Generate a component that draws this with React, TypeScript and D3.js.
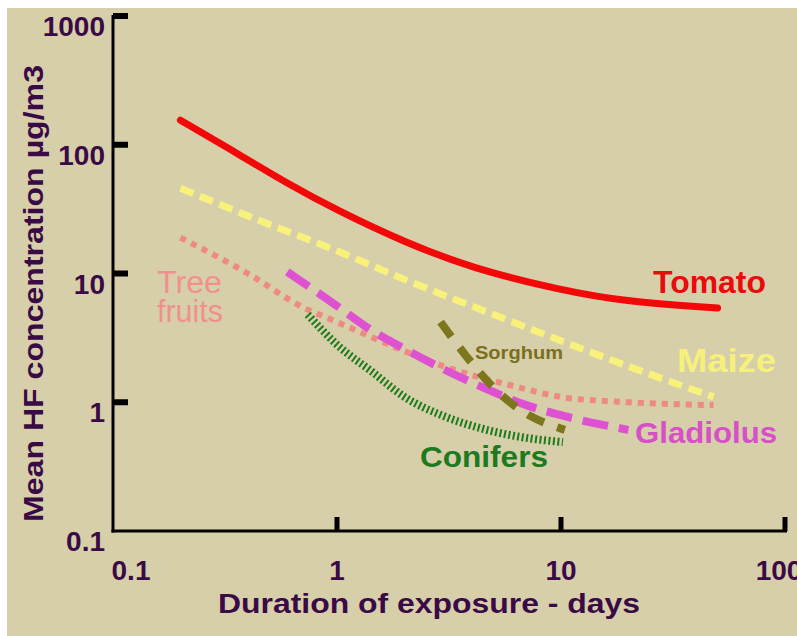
import React from "react";
import * as d3 from "d3";

const xTicks = [0.1, 1, 10, 100];
const yTicks = [0.1, 1, 10, 100, 1000];
const xTickLabels = ["0.1", "1", "10", "100"];
const yTickLabels = ["0.1", "1", "10", "100", "1000"];

const tomato: [number, number][] = [[0.2, 155], [0.35, 88], [0.6, 50], [1, 31], [2, 17.5], [4, 11], [10, 7.4], [20, 6.0], [50, 5.4]];
const maize: [number, number][] = [[0.2, 46], [0.5, 24], [1, 15], [2, 9], [5, 4.8], [10, 3.0], [20, 1.9], [48, 1.1]];
const treeFruits: [number, number][] = [[0.2, 19], [0.4, 10], [0.7, 5.5], [1, 4.2], [2, 2.5], [3, 1.9], [6, 1.35], [10, 1.1], [20, 1.0], [48, 0.95]];
const gladiolus: [number, number][] = [[0.6, 10.3], [1, 5.6], [1.4, 3.7], [2, 2.6], [3, 1.8], [5, 1.2], [7, 0.95], [11, 0.76], [20, 0.61]];
const sorghum: [number, number][] = [[2.9, 4.2], [3.8, 2.25], [5, 1.3], [6.6, 0.87], [10.4, 0.61]];
const conifers: [number, number][] = [[0.74, 4.8], [1.0, 2.8], [1.45, 1.7], [2, 1.1], [3, 0.78], [4.5, 0.62], [6.5, 0.54], [10.2, 0.49]];

const W = 797, H = 636;
const x = d3.scaleLog().domain([0.1, 100]).range([113, 785]);
const y = d3.scaleLog().domain([0.1, 1000]).range([531, 16]);
const line = d3.line<[number, number]>().x(d => x(d[0])).y(d => y(d[1])).curve(d3.curveMonotoneX);
const smooth = d3.line<[number, number]>().x(d => x(d[0])).y(d => y(d[1])).curve(d3.curveBasis);

const AX = "#3a0a46";
const FONT = "'Liberation Sans', Arial, sans-serif";

export default function App() {
  return (
    <svg width={W} height={H} style={{ position: "absolute", left: 0, top: 0 }} fontFamily={FONT}>
      <rect x={0} y={0} width={W} height={H} fill="#ffffff" />
      <rect x={7} y={8} width={W - 7} height={H - 8} fill="#d7cfa9" />

      {/* series */}
      <path d={smooth(tomato)!} fill="none" stroke="#f20808" strokeWidth={7} strokeLinecap="round" />
      <path d={line(maize)!} fill="none" stroke="#f8f27c" strokeWidth={7} strokeDasharray="14 7" />
      <path d={line(treeFruits)!} fill="none" stroke="#ef8a82" strokeWidth={6} strokeDasharray="6 6" />
      <path d={line(gladiolus)!} fill="none" stroke="#de52d2" strokeWidth={8} strokeDasharray="26 11" />
      <path d={line(conifers)!} fill="none" stroke="#1c7c1c" strokeWidth={8} strokeDasharray="2 2.5" />
      <path d={line(sorghum)!} fill="none" stroke="#7e761c" strokeWidth={8} strokeDasharray="18 14" />

      {/* axes */}
      <line x1={x(0.1)} x2={x(0.1)} y1={y(1000) - 1} y2={y(0.1) + 1.5} stroke="#000" strokeWidth={3} />
      <line x1={x(0.1) - 1.5} x2={x(100) + 2} y1={y(0.1)} y2={y(0.1)} stroke="#000" strokeWidth={3} />
      {yTicks.slice(1).map(t => (
        <rect key={"yt" + t} x={x(0.1)} y={y(t) - 3} width={15} height={6} fill="#000" />
      ))}
      {xTicks.slice(1).map(t => (
        <rect key={"xt" + t} x={x(t) - 2.5} y={y(0.1) - 14} width={5} height={14} fill="#000" />
      ))}
      {yTicks.map((t, i) => (
        <text key={"yl" + t} x={105} y={y(t) + 20} textAnchor="end" fontSize={28} fontWeight="bold" fill={AX}>
          {yTickLabels[i]}
        </text>
      ))}
      {xTicks.map((t, i) => (
        <text key={"xl" + t} x={i === 0 ? x(t) + 18 : i === 3 ? x(t) - 6 : x(t)} y={580} textAnchor="middle" fontSize={28} fontWeight="bold" fill={AX}>
          {xTickLabels[i]}
        </text>
      ))}
      <text x={218} y={613} fontSize={28} fontWeight="bold" fill={AX} textLength={422} lengthAdjust="spacingAndGlyphs">
        Duration of exposure - days
      </text>
      <text transform="translate(43,522) rotate(-90)" x={0} y={0} fontSize={28} fontWeight="bold" fill={AX} textLength={457} lengthAdjust="spacingAndGlyphs">
        Mean HF concentration µg/m3
      </text>

      {/* series labels */}
      <text x={653} y={293} fontSize={31} fontWeight="bold" fill="#ea0c0c" textLength={113} lengthAdjust="spacingAndGlyphs">Tomato</text>
      <text x={677} y={372} fontSize={34} fontWeight="bold" fill="#f6f07c" textLength={99} lengthAdjust="spacingAndGlyphs">Maize</text>
      <text x={635} y={443} fontSize={30} fontWeight="bold" fill="#d650c8" textLength={142} lengthAdjust="spacingAndGlyphs">Gladiolus</text>
      <text x={420} y={467} fontSize={30} fontWeight="bold" fill="#1e7a1e" textLength={128} lengthAdjust="spacingAndGlyphs">Conifers</text>
      <text x={475} y={359} fontSize={19} fontWeight="bold" fill="#7a7020" textLength={88} lengthAdjust="spacingAndGlyphs">Sorghum</text>
      <text x={157} y={293} fontSize={31} fill="#f09090" textLength={65} lengthAdjust="spacingAndGlyphs">Tree</text>
      <text x={157} y={322} fontSize={31} fill="#f09090" textLength={66} lengthAdjust="spacingAndGlyphs">fruits</text>
    </svg>
  );
}
